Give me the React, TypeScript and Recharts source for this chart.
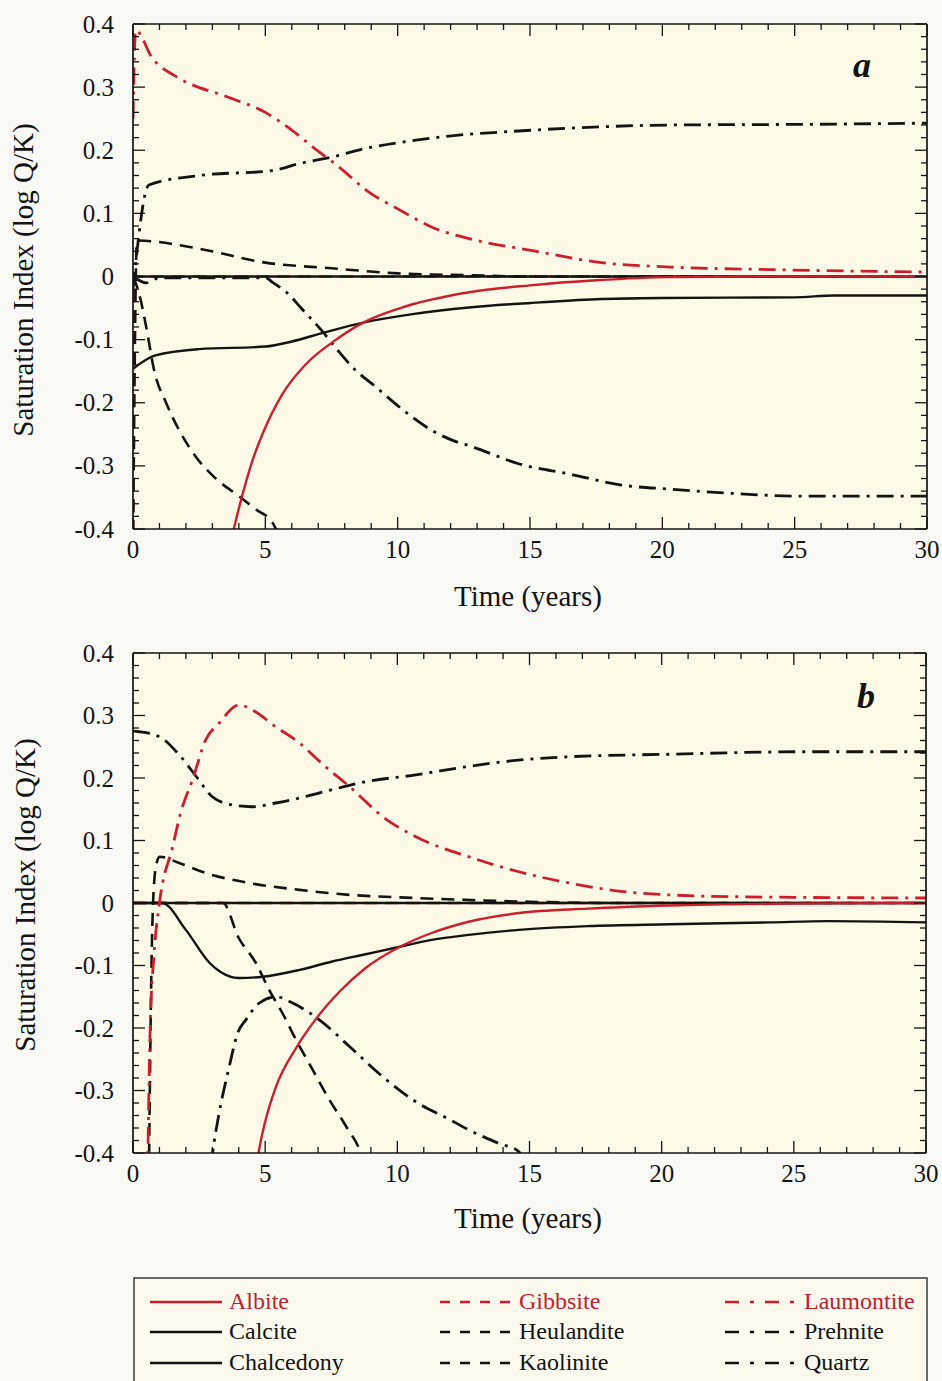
import React from 'react';
import { LineChart, Line, XAxis, YAxis, CartesianGrid } from 'recharts';

type P = [number, number];

// ---------- Panel a (time in years, saturation index log Q/K) ----------
const albiteA: P[] = [[3.7, -0.42], [3.82, -0.398], [4.14, -0.345], [4.51, -0.292], [4.89, -0.25], [5.65, -0.186], [6.53, -0.139], [7.54, -0.104], [8.7, -0.073], [10.1, -0.05], [12.7, -0.025], [15, -0.014], [17.5, -0.006], [20.3, -0.001], [25, 0], [30, 0]];
const calciteA: P[] = [[0, 0], [30, 0]];
const chalcedonyA: P[] = [[0, -0.146], [0.85, -0.125], [2.5, -0.115], [5, -0.111], [6, -0.103], [7.2, -0.089], [8.7, -0.073], [10.5, -0.06], [12.7, -0.049], [15, -0.042], [17.5, -0.036], [20, -0.034], [25, -0.033], [26.5, -0.03], [30, -0.03]];
const gibbsiteA: P[] = [[0, -0.44], [0.06, 0], [30, 0]];
const heulanditeA: P[] = [[0, -0.44], [0.15, 0.057], [2.5, 0.044], [5, 0.022], [7.5, 0.013], [10, 0.005], [12.7, 0.002], [15, 0], [30, 0]];
const kaoliniteA: P[] = [[0, 0], [0.23, -0.027], [0.5, -0.08], [0.8, -0.149], [1.25, -0.2], [1.75, -0.244], [2.4, -0.287], [3.1, -0.319], [4.0, -0.348], [4.65, -0.369], [5.3, -0.392], [5.6, -0.42]];
const laumontiteA: P[] = [[0, 0.25], [0.1, 0.39], [0.73, 0.346], [1.75, 0.314], [3.6, 0.284], [5, 0.26], [5.9, 0.235], [6.8, 0.205], [7.8, 0.173], [8.9, 0.134], [10.1, 0.105], [11.3, 0.078], [12.7, 0.06], [15.1, 0.041], [17.7, 0.022], [20.3, 0.015], [24, 0.011], [30, 0.007]];
const prehniteA: P[] = [[0, -0.02], [0.6, 0.145], [2.5, 0.16], [5.3, 0.168], [6.3, 0.179], [7.5, 0.189], [8.8, 0.203], [10.7, 0.216], [12.3, 0.224], [14, 0.229], [16.5, 0.235], [20.3, 0.24], [25.3, 0.241], [30, 0.243]];
const quartzA: P[] = [[0, 0], [0.5, -0.01], [1, -0.002], [5, -0.002], [5.3, -0.01], [5.8, -0.025], [6.35, -0.05], [7.2, -0.089], [7.7, -0.115], [8.3, -0.144], [9.2, -0.176], [10.1, -0.208], [11.3, -0.244], [12.3, -0.263], [12.7, -0.268], [14.6, -0.297], [16.5, -0.313], [18.4, -0.33], [20.3, -0.337], [22.8, -0.344], [25.3, -0.348], [30, -0.348]];

// ---------- Panel b ----------
const albiteB: P[] = [[4.65, -0.43], [4.75, -0.4], [5.0, -0.35], [5.4, -0.295], [6.2, -0.23], [6.93, -0.185], [7.81, -0.142], [8.8, -0.104], [10.1, -0.07], [11.3, -0.048], [12.7, -0.03], [14.6, -0.016], [17.2, -0.009], [20.3, -0.004], [25, -0.001], [30, 0]];
const calciteB: P[] = [[0, 0], [30, 0]];
const chalcedonyB: P[] = [[0, 0], [1.1, 0], [2.0, -0.043], [2.9, -0.096], [3.3, -0.11], [4.0, -0.12], [4.9, -0.118], [6.3, -0.107], [7.5, -0.094], [8.8, -0.082], [10.1, -0.07], [11.3, -0.059], [12.7, -0.051], [14.6, -0.043], [17.2, -0.037], [20.3, -0.034], [24.1, -0.031], [26.3, -0.029], [30, -0.031]];
const gibbsiteB: P[] = [[0, 0], [30, 0]];
const heulanditeB: P[] = [[0.6, -0.44], [0.7, -0.1], [0.78, 0.02], [0.9, 0.065], [1.0, 0.074], [1.75, 0.064], [2.75, 0.048], [4.4, 0.032], [6.3, 0.021], [8.2, 0.013], [10.7, 0.008], [12.6, 0.005], [15, 0.002], [18, 0], [30, 0]];
const kaoliniteB: P[] = [[0, 0], [3.4, 0], [4.0, -0.056], [4.65, -0.096], [5.15, -0.139], [5.65, -0.176], [6.17, -0.219], [6.8, -0.267], [7.43, -0.315], [8.07, -0.358], [8.6, -0.398], [8.7, -0.41]];
const laumontiteB: P[] = [[0.55, -0.44], [0.65, -0.2], [0.8, -0.08], [1.0, 0], [1.5, 0.09], [1.8, 0.144], [2.25, 0.197], [2.75, 0.261], [3.26, 0.288], [4.0, 0.317], [4.5, 0.309], [5.4, 0.282], [6.3, 0.256], [7.2, 0.221], [8.2, 0.186], [9.45, 0.138], [10.7, 0.106], [12.7, 0.074], [14.6, 0.05], [16.5, 0.032], [19.1, 0.016], [22.9, 0.01], [30, 0.008]];
const prehniteB: P[] = [[0, 0.275], [0.23, 0.274], [1.0, 0.266], [1.75, 0.237], [2.4, 0.202], [3.0, 0.17], [3.75, 0.157], [4.5, 0.154], [5.4, 0.16], [6.3, 0.168], [7.5, 0.181], [8.8, 0.194], [10.7, 0.205], [12.6, 0.218], [14, 0.226], [16.5, 0.234], [20.3, 0.238], [25.4, 0.242], [30, 0.242]];
const quartzB: P[] = [[2.95, -0.42], [3.01, -0.4], [3.26, -0.336], [3.64, -0.262], [3.96, -0.208], [4.27, -0.187], [4.78, -0.16], [5.41, -0.15], [6.04, -0.16], [7.05, -0.187], [8.2, -0.23], [9.45, -0.278], [10.7, -0.318], [12, -0.347], [12.7, -0.363], [13.8, -0.384], [14.6, -0.398], [14.8, -0.41]];

// ---------- ticks ----------
const xTicks = [0, 1, 2, 3, 4, 5, 6, 7, 8, 9, 10, 11, 12, 13, 14, 15, 16, 17, 18, 19, 20, 21, 22, 23, 24, 25, 26, 27, 28, 29, 30];
const yTicks = [-0.4, -0.38, -0.36, -0.34, -0.32, -0.3, -0.28, -0.26, -0.24, -0.22, -0.2, -0.18, -0.16, -0.14, -0.12, -0.1, -0.08, -0.06, -0.04, -0.02, 0, 0.02, 0.04, 0.06, 0.08, 0.1, 0.12, 0.14, 0.16, 0.18, 0.2, 0.22, 0.24, 0.26, 0.28, 0.3, 0.32, 0.34, 0.36, 0.38, 0.4];

const legendCols = [
  ['Albite', 'Calcite', 'Chalcedony'],
  ['Gibbsite', 'Heulandite', 'Kaolinite'],
  ['Laumontite', 'Prehnite', 'Quartz'],
];

const INK = '#141414';
const RED = '#cc1f2b';
const SERIF = '"Liberation Serif", "Times New Roman", serif';
const PAGE_BG = '#f8f8f4';
const PLOT_BG = '#fcfae6';
const DASH = '13 8';
const DASHDOT = '17 7 3 7';

type Style = { color: string; dash?: string; width: number };
const styles: Record<string, Style> = {
  Albite: { color: RED, width: 2.4 },
  Calcite: { color: INK, width: 2.4 },
  Chalcedony: { color: INK, width: 2.4 },
  Gibbsite: { color: RED, dash: DASH, width: 2.6 },
  Heulandite: { color: INK, dash: DASH, width: 2.6 },
  Kaolinite: { color: INK, dash: DASH, width: 2.6 },
  Laumontite: { color: RED, dash: DASHDOT, width: 2.8 },
  Prehnite: { color: INK, dash: DASHDOT, width: 2.8 },
  Quartz: { color: INK, dash: DASHDOT, width: 2.8 },
};

const panelA: [string, P[]][] = [
  ['Gibbsite', gibbsiteA], ['Calcite', calciteA], ['Heulandite', heulanditeA], ['Quartz', quartzA],
  ['Chalcedony', chalcedonyA], ['Kaolinite', kaoliniteA], ['Prehnite', prehniteA], ['Laumontite', laumontiteA], ['Albite', albiteA],
];
const panelB: [string, P[]][] = [
  ['Gibbsite', gibbsiteB], ['Calcite', calciteB], ['Kaolinite', kaoliniteB], ['Heulandite', heulanditeB],
  ['Chalcedony', chalcedonyB], ['Quartz', quartzB], ['Prehnite', prehniteB], ['Laumontite', laumontiteB], ['Albite', albiteB],
];

const isMajorY = (v: number) => Math.abs(Math.round(v * 10) - v * 10) < 1e-6;
const fmtY = (v: number) => (Math.abs(v) < 1e-9 ? '0' : v.toFixed(1));

type Geo = { top: number; h: number; pt: number; pb: number; pl: number; pr: number };

const AX_TOP_H = 20;
const AX_BOTTOM_H = 40;
const AX_LEFT_W = 60;
const AX_RIGHT_W = 10;

function Panel({ geo, series }: { geo: Geo; series: [string, P[]][] }) {
  const { pt, pb, pl, pr } = geo;
  const W = 942;
  const bottomTick = (props: any) => {
    const x = props.x as number;
    const v = props.payload.value as number;
    const major = v % 5 === 0;
    return (
      <g>
        <line x1={x} x2={x} y1={pb} y2={pb - (major ? 12 : 6)} stroke={INK} strokeWidth={1.3} />
        {major && (
          <text x={x} y={pb + 29} textAnchor="middle" fontFamily={SERIF} fontSize={25} fill={INK}>{v}</text>
        )}
      </g>
    );
  };
  const topTick = (props: any) => {
    const x = props.x as number;
    const v = props.payload.value as number;
    const major = v % 5 === 0;
    return <line x1={x} x2={x} y1={pt} y2={pt + (major ? 12 : 6)} stroke={INK} strokeWidth={1.3} />;
  };
  const leftTick = (props: any) => {
    const y = props.y as number;
    const v = props.payload.value as number;
    const major = isMajorY(v);
    return (
      <g>
        <line x1={pl} x2={pl + (major ? 12 : 6)} y1={y} y2={y} stroke={INK} strokeWidth={1.3} />
        {major && (
          <text x={pl - 19} y={y + 8.5} textAnchor="end" fontFamily={SERIF} fontSize={25} fill={INK}>{fmtY(v)}</text>
        )}
      </g>
    );
  };
  const rightTick = (props: any) => {
    const y = props.y as number;
    const v = props.payload.value as number;
    const major = isMajorY(v);
    return <line x1={pr} x2={pr - (major ? 12 : 6)} y1={y} y2={y} stroke={INK} strokeWidth={1.3} />;
  };
  const axisLine = { stroke: INK, strokeWidth: 1.7 };
  return (
    <div style={{ position: 'absolute', left: 0, top: geo.top }}>
      <LineChart width={W} height={geo.h}
        margin={{ top: pt - AX_TOP_H, bottom: geo.h - pb - AX_BOTTOM_H, left: pl - AX_LEFT_W, right: W - pr - AX_RIGHT_W }}>
        <CartesianGrid xAxisId="b" yAxisId="l" fill={PLOT_BG} stroke="none" horizontal={false} vertical={false} />
        <XAxis xAxisId="b" orientation="bottom" type="number" dataKey="t" domain={[0, 30]} ticks={xTicks} interval={0}
          height={AX_BOTTOM_H} tickSize={0} tickMargin={0} tickLine={false} tick={bottomTick} axisLine={axisLine} allowDataOverflow />
        <XAxis xAxisId="t" orientation="top" type="number" dataKey="t" domain={[0, 30]} ticks={xTicks} interval={0}
          height={AX_TOP_H} tickSize={0} tickMargin={0} tickLine={false} tick={topTick} axisLine={axisLine} allowDataOverflow />
        <YAxis yAxisId="l" orientation="left" type="number" domain={[-0.4, 0.4]} ticks={yTicks} interval={0}
          width={AX_LEFT_W} tickSize={0} tickMargin={0} tickLine={false} tick={leftTick} axisLine={axisLine} allowDataOverflow />
        <YAxis yAxisId="r" orientation="right" type="number" domain={[-0.4, 0.4]} ticks={yTicks} interval={0}
          width={AX_RIGHT_W} tickSize={0} tickMargin={0} tickLine={false} tick={rightTick} axisLine={axisLine} allowDataOverflow />
        {series.map(([name, pts]) => {
          const s = styles[name];
          return (
            <Line key={name} name={name} xAxisId="b" yAxisId="l" data={pts.map(([t, v]) => ({ t, v }))} dataKey="v"
              type="monotone" stroke={s.color} strokeWidth={s.width} strokeDasharray={s.dash} dot={false}
              activeDot={false} isAnimationActive={false} />
          );
        })}
      </LineChart>
    </div>
  );
}

const geoA: Geo = { top: 0, h: 620, pt: 24, pb: 529, pl: 133, pr: 927 };
const geoB: Geo = { top: 630, h: 620, pt: 23, pb: 523, pl: 133, pr: 926 };

function Overlay() {
  const colX = [150, 440, 725];
  const rowY = [1302, 1332, 1363];
  return (
    <svg width={942} height={1381} style={{ position: 'absolute', left: 0, top: 0, pointerEvents: 'none' }}>
      <g fontFamily={SERIF} fill={INK}>
        <text transform="translate(33,280) rotate(-90)" textAnchor="middle" fontSize={29}>Saturation Index (log Q/K)</text>
        <text transform="translate(35,895) rotate(-90)" textAnchor="middle" fontSize={29}>Saturation Index (log Q/K)</text>
        <text x={528} y={606} textAnchor="middle" fontSize={29}>Time (years)</text>
        <text x={528} y={1228} textAnchor="middle" fontSize={29}>Time (years)</text>
        <text x={862} y={77} textAnchor="middle" fontSize={36} fontWeight="bold" fontStyle="italic">a</text>
        <text x={866} y={708} textAnchor="middle" fontSize={36} fontWeight="bold" fontStyle="italic">b</text>
      </g>
      <rect x={134} y={1278} width={793} height={140} fill="#fbf9ee" stroke="#3a3a3a" strokeWidth={1.5} />
      {legendCols.map((col, ci) =>
        col.map((name, ri) => {
          const s = styles[name];
          const x0 = colX[ci];
          const y = rowY[ri];
          const dash = ci === 0 ? undefined : ci === 1 ? '10 10' : '14 11 4 11';
          return (
            <g key={name}>
              <line x1={x0} x2={x0 + 72} y1={y} y2={y} stroke={s.color} strokeWidth={2.4} strokeDasharray={dash} />
              <text x={x0 + 79} y={y + 7} fontFamily={SERIF} fontSize={24} fill={s.color === RED ? '#c0222c' : INK}>{name}</text>
            </g>
          );
        })
      )}
    </svg>
  );
}

export default function App() {
  return (
    <div style={{ position: 'absolute', left: 0, top: 0, width: 942, height: 1381, background: PAGE_BG, overflow: 'hidden' }}>
      <Panel geo={geoA} series={panelA} />
      <Panel geo={geoB} series={panelB} />
      <Overlay />
    </div>
  );
}
